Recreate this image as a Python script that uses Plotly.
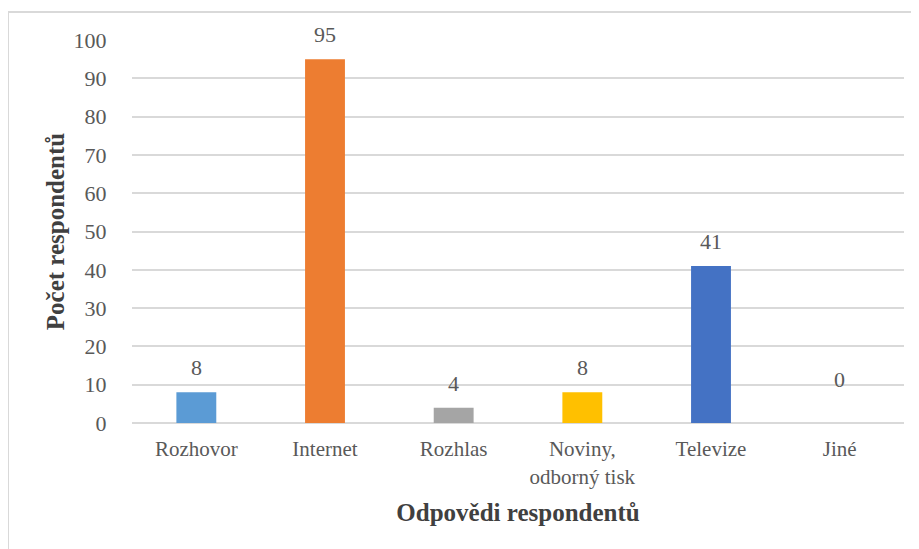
import plotly.graph_objects as go

categories = ["Rozhovor", "Internet", "Rozhlas", "Noviny,<br>odborný tisk", "Televize", "Jiné"]
values = [8, 95, 4, 8, 41, 0]
colors = ["#5B9BD5", "#ED7D31", "#A5A5A5", "#FFC000", "#4472C4", "#5B9BD5"]
y_ticks = [0, 10, 20, 30, 40, 50, 60, 70, 80, 90, 100]

FONT = "Liberation Serif"

fig = go.Figure()
fig.add_trace(go.Bar(
    x=categories, y=values, marker=dict(color=colors, line=dict(width=0)),
    showlegend=False, hoverinfo="x+y",
))

for c, v in zip(categories, values):
    fig.add_annotation(x=c, y=v, text=str(v), showarrow=False, yanchor="bottom",
                       yshift=(10 if v > 0 else 29),
                       font=dict(family=FONT, size=22, color="#595959"))

# page body has an 8px default margin, so figure coords = screen coords - 8
L, R, T, B = 124, 23, 32, 134
W, H = 919, 549
pw, ph = W - L - R, H - T - B

fig.add_shape(type="rect", xref="paper", yref="paper",
              x0=(0 - L) / pw, x1=(W + 10 - L) / pw,
              y0=(H - B - (H + 10)) / ph, y1=(H - B - 4) / ph,
              line=dict(color="#d9d9d9", width=2), fillcolor="rgba(0,0,0,0)", layer="below")

fig.update_layout(
    width=W, height=H,
    margin=dict(l=L, r=R, t=T, b=B),
    plot_bgcolor="white", paper_bgcolor="white",
    bargap=0.69,
    font=dict(family=FONT, size=22, color="#595959"),
    xaxis=dict(
        title=dict(text="Odpovědi respondentů", font=dict(family=FONT, size=25, color="#404040", weight="bold"), standoff=15),
        showgrid=False, showline=False, zeroline=False,
        ticks="outside", ticklen=7, tickcolor="rgba(0,0,0,0)",
        tickfont=dict(family=FONT, size=21, color="#595959"),
    ),
    yaxis=dict(
        title=dict(text="Počet respondentů", font=dict(family=FONT, size=25, color="#404040", weight="bold"), standoff=1),
        range=[0, 100], tickvals=y_ticks,
        showgrid=True, gridcolor="#d9d9d9", gridwidth=1.5,
        zeroline=True, zerolinecolor="#d9d9d9", zerolinewidth=1.5,
        showline=False, ticks="outside", ticklen=20, tickcolor="rgba(0,0,0,0)",
        tickfont=dict(family=FONT, size=22, color="#595959"),
    ),
)

fig.write_html("out.html")
